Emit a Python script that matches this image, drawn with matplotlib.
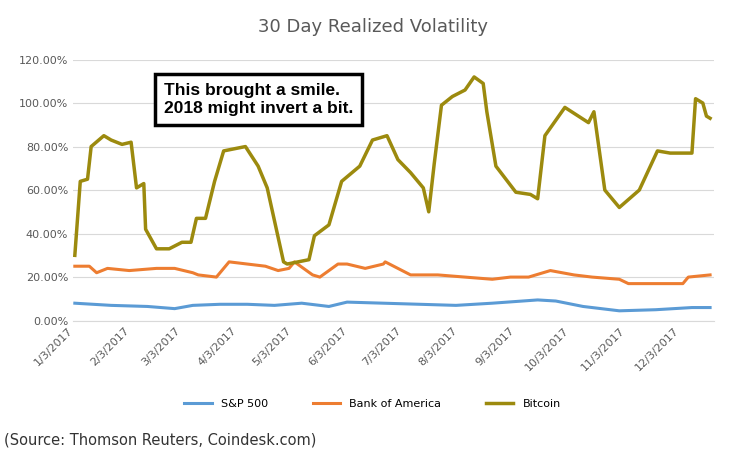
import numpy as np
import pandas as pd
import matplotlib
matplotlib.use("Agg")
import matplotlib.pyplot as plt

start = pd.Timestamp("2017-01-03")

# days after 1/3/2017, volatility in %
btc_days = [0, 3, 7, 9, 16, 20, 26, 31, 34, 38, 39, 45, 52, 59, 64, 67, 72, 77, 82, 94, 101, 106,
            115, 117, 129, 132, 140, 147, 157, 164, 172, 178, 185, 192, 195, 198, 202, 208, 215,
            220, 225, 227, 232, 243, 251, 255, 259, 270, 283, 286, 292, 300, 311, 321, 328, 340,
            342, 346, 348, 350]
btc_vals = [30, 64, 65, 80, 85, 83, 81, 82, 61, 63, 42, 33, 33, 36, 36, 47, 47, 64, 78, 80, 71, 61,
            27, 26, 28, 39, 44, 64, 71, 83, 85, 74, 68, 61, 50, 72, 99, 103, 106, 112, 109, 96,
            71, 59, 58, 56, 85, 98, 91, 96, 60, 52, 60, 78, 77, 77, 102, 100, 94, 93]

bac_days = [0, 8, 12, 18, 30, 45, 55, 65, 68, 78, 85, 95, 105, 112, 118, 121, 131, 135, 145, 150,
            160, 170, 171, 185, 200, 215, 230, 240, 250, 262, 275, 285, 300, 305, 320, 335, 338, 350]
bac_vals = [25, 25, 22, 24, 23, 24, 24, 22, 21, 20, 27, 26, 25, 23, 24, 27, 21, 20, 26, 26,
            24, 26, 27, 21, 21, 20, 19, 20, 20, 23, 21, 20, 19, 17, 17, 17, 20, 21]

spx_days = [0, 20, 40, 55, 65, 80, 95, 110, 125, 140, 150, 170, 190, 210, 230, 255, 265,
            280, 300, 320, 340, 350]
spx_vals = [8, 7, 6.5, 5.5, 7, 7.5, 7.5, 7, 8, 6.5, 8.5, 8, 7.5, 7, 8, 9.5, 9,
            6.5, 4.5, 5, 6, 6]

ticks = pd.date_range("2017-01-03", periods=12, freq=pd.DateOffset(months=1))
tick_labels = [f"{d.month}/3/2017" for d in ticks]

def dates(days):
    return [start + pd.Timedelta(days=d) for d in days]

fig = plt.figure(figsize=(7.45, 4.58), dpi=100)
ax = fig.add_axes([0.098, 0.30, 0.86, 0.57])
ax.plot(dates(spx_days), spx_vals, color="#5B9BD5", lw=2.2, label="S&P 500")
ax.plot(dates(bac_days), bac_vals, color="#ED7D31", lw=2.2, label="Bank of America")
ax.plot(dates(btc_days), btc_vals, color="#9C8A0E", lw=2.5, label="Bitcoin")

ax.set_ylim(0, 120)
ax.set_yticks(np.arange(0, 121, 20))
ax.set_yticklabels([f"{v:.2f}%" for v in range(0, 121, 20)], fontsize=8, color="#595959")
ax.set_xlim(start - pd.Timedelta(days=1), start + pd.Timedelta(days=352))
ax.set_xticks(ticks)
ax.set_xticklabels(tick_labels, rotation=45, ha="right", fontsize=8, color="#595959")
ax.grid(axis="y", color="#D9D9D9", lw=0.8)
ax.tick_params(length=0)
for s in ["top", "right", "left"]:
    ax.spines[s].set_visible(False)
ax.spines["bottom"].set_color("#D9D9D9")

fig.text(0.5, 0.93, "30 Day Realized Volatility", ha="center", fontsize=13, color="#595959")
fig.text(0.22, 0.783, "This brought a smile.\n2018 might invert a bit.", fontsize=12.5,
         fontweight="bold", family="Liberation Sans", linespacing=1.3, va="center",
         bbox=dict(boxstyle="square,pad=0.5", fc="white", ec="black", lw=2.5))
fig.legend(loc="lower center", bbox_to_anchor=(0.5, 0.085), ncol=3, frameon=False, fontsize=8,
           handlelength=2.5, columnspacing=4)
fig.text(0.005, 0.03, "(Source: Thomson Reuters, Coindesk.com)", fontsize=10.5, color="#333333")
fig.savefig("out.png", dpi=100)
